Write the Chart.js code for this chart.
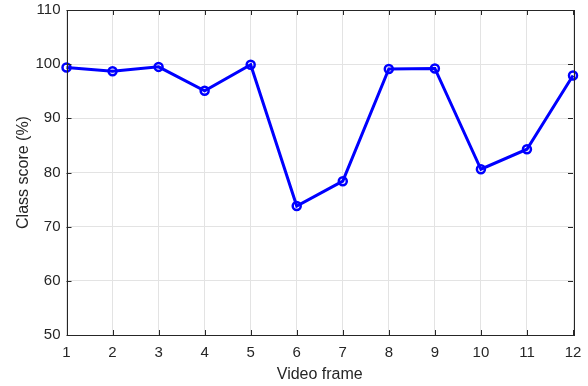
<!DOCTYPE html>
<html>
<head>
<meta charset="utf-8">
<script src="https://cdn.jsdelivr.net/npm/chart.js@4"></script>
<style>
  html, body { margin: 0; padding: 0; background: #fff; }
  canvas { display: block; }
</style>
</head>
<body>
<canvas id="myChart" width="588" height="386"></canvas>
<script>
// video frames and class score (%)
var frames = ["1", "2", "3", "4", "5", "6", "7", "8", "9", "10", "11", "12"];
var scores = [99.4, 98.7, 99.5, 95.1, 99.9, 73.8, 78.4, 99.1, 99.2, 80.6, 84.3, 97.9];
var yTicks = [50, 60, 70, 80, 90, 100, 110];

var axisColor = "#262626";
var fontFamily = "Liberation Sans, Arial, sans-serif";

// matlab style box with inward ticks
var boxPlugin = {
    id: "box",
    afterDatasetsDraw: function (chart) {
        var ctx = chart.ctx;
        var a = chart.chartArea;
        var xs = chart.scales.x;
        var ys = chart.scales.y;
        ctx.save();
        ctx.strokeStyle = axisColor;
        ctx.lineWidth = 1;
        ctx.beginPath();
        for (var i = 0; i < frames.length; i++) {
            var px = Math.round(xs.getPixelForValue(i)) + 0.5;
            ctx.moveTo(px, a.bottom);
            ctx.lineTo(px, a.bottom - 5);
            ctx.moveTo(px, a.top);
            ctx.lineTo(px, a.top + 5);
        }
        for (var j = 0; j < yTicks.length; j++) {
            var py = Math.round(ys.getPixelForValue(yTicks[j])) + 0.5;
            ctx.moveTo(a.left, py);
            ctx.lineTo(a.left + 5, py);
            ctx.moveTo(a.right, py);
            ctx.lineTo(a.right - 5, py);
        }
        ctx.stroke();
        ctx.strokeRect(Math.round(a.left) + 0.5, Math.round(a.top) + 0.5,
            Math.round(a.right - a.left), Math.round(a.bottom - a.top));
        ctx.restore();
    }
};

new Chart(document.getElementById("myChart"), {
    type: "line",
    data: {
        labels: frames,
        datasets: [
            {
                data: scores,
                borderColor: "#0000ff",
                borderWidth: 3,
                pointRadius: 4,
                pointBorderWidth: 2.5,
                pointBorderColor: "#0000ff",
                pointBackgroundColor: "rgba(0,0,0,0)",
                tension: 0,
            },
        ],
    },
    options: {
        responsive: false,
        animation: false,
        layout: { padding: { top: 10, right: 15, left: 0, bottom: 0 } },
        plugins: {
            legend: { display: false },
            tooltip: { enabled: false },
        },
        scales: {
            x: {
                offset: false,
                grid: { color: "#e3e3e3", drawTicks: false },
                border: { display: false },
                ticks: {
                    color: axisColor,
                    padding: 9,
                    maxRotation: 0,
                    autoSkip: false,
                    font: { family: fontFamily, size: 15 },
                },
                title: {
                    display: true,
                    text: "Video frame",
                    color: axisColor,
                    padding: { top: 0, bottom: 2 },
                    font: { family: fontFamily, size: 16 },
                },
                afterFit: function (scale) {
                    scale.height = 51;
                    scale.paddingLeft = 0;
                    scale.paddingRight = 0;
                },
            },
            y: {
                min: 50,
                max: 110,
                grid: { color: "#e3e3e3", drawTicks: false },
                border: { display: false },
                ticks: {
                    stepSize: 10,
                    color: axisColor,
                    padding: 6,
                    font: { family: fontFamily, size: 15 },
                },
                title: {
                    display: true,
                    text: "Class score (%)",
                    color: axisColor,
                    padding: { top: 14, bottom: 0 },
                    font: { family: fontFamily, size: 16 },
                },
                afterFit: function (scale) {
                    scale.width = 66.5;
                    scale.paddingTop = 0;
                    scale.paddingBottom = 0;
                },
            },
        },
    },
    plugins: [boxPlugin],
});
</script>
</body>
</html>
